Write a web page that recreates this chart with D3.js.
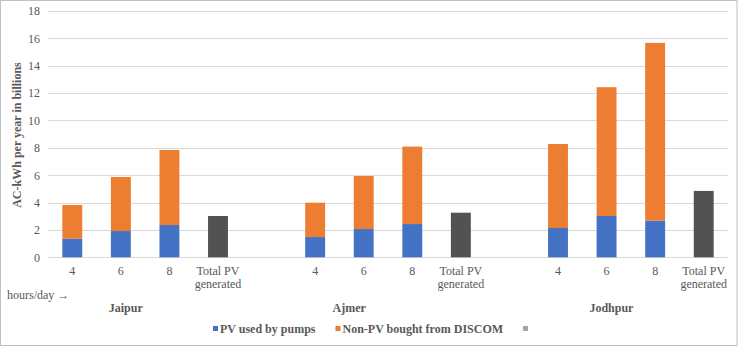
<!DOCTYPE html>
<html>
<head>
<meta charset="utf-8">
<script src="https://cdn.jsdelivr.net/npm/d3@7"></script>
<style>
  body { margin: 0; background: #fff; }
</style>
</head>
<body>
<div id="chart"></div>
<script>
// data
var cities = ["Jaipur", "Ajmer", "Jodhpur"];
var hours = ["4", "6", "8"];
var pvUsed = [[1.36, 1.92, 2.36], [1.48, 2.07, 2.43], [2.14, 3.02, 2.68]];
var nonPv = [[2.46, 3.95, 5.48], [2.51, 3.87, 5.66], [6.14, 9.41, 12.99]];
var totalPv = [3.02, 3.26, 4.85];
var yTicks = [0, 2, 4, 6, 8, 10, 12, 14, 16, 18];
var groupLabelAt = [1.1, 5.7, 11.1]; // in slot units, as Excel placed them
var legendLabels = ["PV used by pumps", "Non-PV bought from DISCOM", ""];

var W = 739, H = 347;
var FONT = "'Liberation Serif', 'Times New Roman', serif";
var margin = {top: 11, right: 11, bottom: 90, left: 48};
var width = W - margin.left - margin.right,
    height = 257.3 - margin.top;

var colors = {pv: "#4472C4", non: "#ED7D31", total: "#525252", blank: "#A5A5A5"};

// build the category slots: 4 per city, one blank slot between cities
var slots = [];
cities.forEach(function (c, ci) {
  hours.forEach(function (h, hi) {
    slots.push({key: c + "-" + h, label: [h], city: ci, pv: pvUsed[ci][hi], non: nonPv[ci][hi]});
  });
  slots.push({key: c + "-total", label: ["Total PV", "generated"], city: ci, total: totalPv[ci]});
  if (ci < cities.length - 1) slots.push({key: c + "-gap", label: [], city: ci, blank: true});
});

var svg = d3.select("#chart").append("svg").attr("width", W).attr("height", H);

svg.append("rect").attr("x", 0.5).attr("y", 0.5).attr("width", 736.5).attr("height", 345)
  .attr("fill", "#fff").attr("stroke", "#BFBFBF");

var g = svg.append("g").attr("transform", "translate(" + margin.left + "," + margin.top + ")");

var x = d3.scaleBand().domain(slots.map(function (d) { return d.key; }))
  .range([0, width]).paddingInner(0.59).paddingOuter(0.295);
var step = x.step();
var y = d3.scaleLinear().domain([0, 18]).range([height, 0]);

// grid
g.append("g").selectAll("line").data(yTicks).enter().append("line")
  .attr("x1", 0).attr("x2", width)
  .attr("y1", function (d) { return Math.round(y(d)) + 0.5; })
  .attr("y2", function (d) { return Math.round(y(d)) + 0.5; })
  .attr("stroke", "#D9D9D9").attr("stroke-width", 1);

// y axis labels
var yAxis = g.append("g").call(d3.axisLeft(y).tickValues(yTicks).tickSize(0).tickPadding(8));
yAxis.select(".domain").remove();
yAxis.attr("font-family", null).attr("font-size", null);
yAxis.selectAll("text").style("font-size", "12px").style("fill", "#595959").style("font-family", FONT);

// bars
var bars = g.append("g");
slots.forEach(function (d) {
  var bx = x(d.key);
  if (d.pv !== undefined) {
    bars.append("rect").attr("x", bx).attr("width", x.bandwidth())
      .attr("y", y(d.pv)).attr("height", y(0) - y(d.pv)).attr("fill", colors.pv);
    bars.append("rect").attr("x", bx).attr("width", x.bandwidth())
      .attr("y", y(d.pv + d.non)).attr("height", y(d.pv) - y(d.pv + d.non)).attr("fill", colors.non);
  }
  if (d.total !== undefined) {
    bars.append("rect").attr("x", bx).attr("width", x.bandwidth())
      .attr("y", y(d.total)).attr("height", y(0) - y(d.total)).attr("fill", colors.total);
  }
});

function txt(sel) {
  return sel.append("text").style("font-family", FONT).style("font-size", "12px").style("fill", "#595959");
}

// category labels
var xl = g.append("g").attr("transform", "translate(0," + height + ")");
slots.forEach(function (d) {
  var cx = x(d.key) + x.bandwidth() / 2;
  var t = txt(xl).attr("text-anchor", "middle").attr("x", cx).attr("y", 18);
  d.label.forEach(function (l, i) {
    t.append("tspan").attr("x", cx).attr("dy", i === 0 ? 0 : 13).text(l);
  });
});

// city labels
cities.forEach(function (c, ci) {
  txt(xl).attr("text-anchor", "middle").style("font-weight", "bold")
    .attr("x", (groupLabelAt[ci] + 0.5) * step).attr("y", 55).text(c);
});

txt(svg).attr("x", 7).attr("y", 299).text("hours/day \u2192");

// y title
txt(svg).attr("transform", "translate(21,135) rotate(-90)")
  .attr("text-anchor", "middle").style("font-weight", "bold")
  .text("AC-kWh per year in billions");

// legend
var legendColors = [colors.pv, colors.non, colors.blank];
var lg = svg.append("g").attr("transform", "translate(0,333)");
var lx = 213;
legendLabels.forEach(function (l, i) {
  lg.append("rect").attr("x", lx).attr("y", -7).attr("width", 5).attr("height", 5).attr("fill", legendColors[i]);
  var t = txt(lg).attr("x", lx + 7).attr("y", 0).style("font-weight", "bold").text(l);
  lx += 7 + (l ? t.node().getComputedTextLength() : 0) + 20;
});
</script>
</body>
</html>
